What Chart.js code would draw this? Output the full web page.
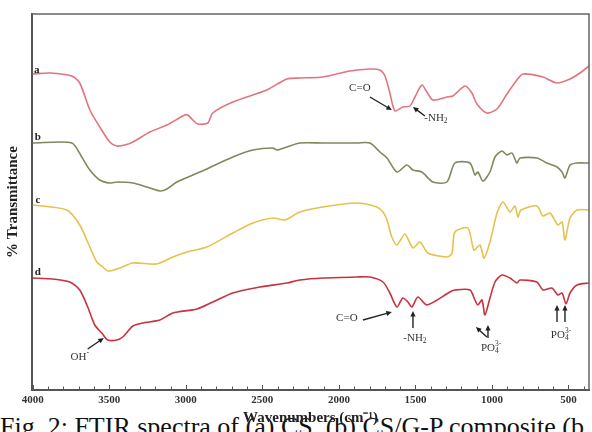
<!DOCTYPE html>
<html><head><meta charset="utf-8">
<script src="https://cdn.jsdelivr.net/npm/chart.js@4"></script>
<style>
html,body{margin:0;padding:0;background:#fff;}
#wrap{position:relative;width:592px;height:432px;overflow:hidden;}
#cap{position:absolute;left:0;top:414px;font:26px "Liberation Serif",serif;line-height:26px;white-space:nowrap;color:#111;}
canvas{position:absolute;left:0;top:0;}
</style></head><body>
<div id="wrap"><div id="cap">Fig. 2: FTIR spectra of (a) CS, (b) CS/G-P composite (b</div><canvas id="c" width="592" height="432"></canvas></div>
<script>
// ---- data (wavenumber, relative transmittance, arbitrary offset units) ----
const aWn = [4000,3889,3745,3693,3627,3562,3497,3451,3399,3346,3235,3124,3007,2987,2954,2922,2856,2824,2693,2471,2340,2255,2105,1928,1797,1732,1699,1667,1634,1582,1536,1503,1458,1425,1386,1294,1255,1176,1131,1098,1033,967,902,837,797,667,575,490,425,366];
const aT  = [316,317,314,307,280,263,248,244,245,248,258,265,275,275,270,266,267,277,288,300,311,312,313,319,321,320,314,297,279,283,284,293,305,298,290,293,294,304,297,286,277,281,296,310,316,313,307,311,317,324];

const bWn = [4000,3745,3680,3627,3562,3497,3451,3346,3255,3170,3124,3059,2908,2693,2562,2431,2405,2340,2255,2105,1882,1797,1732,1686,1621,1556,1516,1458,1386,1294,1242,1144,1111,1092,1059,1013,980,935,902,869,837,817,706,641,575,542,523,490,444,366];
const bT  = [247,247,233,220,210,207,208,207,203,199,201,208,218,233,240,242,240,243,247,247,247,247,238,232,218,225,220,218,208,208,227,227,215,218,209,218,233,239,235,237,227,232,232,227,223,218,212,225,227,227];

const cWn = [4000,3778,3693,3627,3582,3542,3510,3431,3346,3190,3085,2993,2863,2693,2562,2431,2353,2255,2105,1882,1752,1712,1686,1654,1621,1569,1516,1471,1418,1294,1261,1242,1157,1118,1078,1052,1013,967,928,882,850,830,810,706,667,621,569,542,523,490,444,366];
const cT  = [185,180,165,143,128,123,119,122,127,126,133,138,143,157,167,172,170,178,183,187,183,178,170,153,145,156,142,148,137,133,137,158,162,140,145,132,148,177,188,178,184,173,180,184,174,177,165,168,150,172,180,180];

const dWn = [4000,3869,3758,3693,3641,3595,3549,3510,3451,3412,3346,3281,3170,3085,2928,2824,2693,2516,2340,2255,2105,1882,1797,1712,1667,1621,1582,1549,1523,1484,1425,1275,1242,1144,1111,1092,1065,1046,1013,980,935,882,837,817,706,667,608,569,542,516,490,444,366];
const dT  = [112,111,108,100,83,65,57,50,50,53,64,67,70,77,81,88,97,103,107,110,112,113,113,108,97,83,92,88,83,93,85,98,100,100,90,85,90,75,92,108,115,112,107,110,108,100,102,95,97,86,97,105,107];

const seriesNames = ['a','b','c','d'];
const majorTicks = [4000,3500,3000,2500,2000,1500,1000,500];

// ---- annotations (data coordinates) ----
const curveLabels = [
  {t:'a', wn:3974, v:320}, {t:'b', wn:3967, v:253},
  {t:'c', wn:3967, v:190}, {t:'d', wn:3967, v:118}
];
const notes = [
  {parts:[['C=O','n']], wn:1863, v:302},
  {parts:[['-NH','n'],['2','sub']], wn:1366, v:272},
  {parts:[['OH','n'],['-','sup']], wn:3693, v:33},
  {parts:[['C=O','n']], wn:1948, v:72},
  {parts:[['-NH','n'],['2','sub']], wn:1503, v:52},
  {parts:[['PO','n'],[['4','3-'],'subsup']], wn:1006, v:42},
  {parts:[['PO','n'],[['4','3-'],'subsup']], wn:549, v:55}
];
const arrows = [
  [[1797,293],[1654,280]],
  [[1438,274],[1516,283]],
  [[3641,41],[3536,52]],
  [[1843,70],[1654,78]],
  [[1516,62],[1516,79]],
  [[1033,53],[1105,63]],
  [[1026,52],[1026,65]],
  [[575,68],[575,85]],
  [[523,68],[523,85]]
];

const colors = ['#e2747f','#7d8a5c','#e6c14c','#c8323f'];
const wns = [aWn,bWn,cWn,dWn], vals = [aT,bT,cT,dT];

const serif = '"Liberation Serif", "Times New Roman", serif';

function drawParts(ctx, parts, cx, cy){
  const base = '11px '+serif, small = '7.5px '+serif;
  let w = 0;
  const widths = parts.map(([t,k])=>{
    let ww;
    if(k==='n'){ctx.font=base; ww=ctx.measureText(t).width;}
    else if(k==='subsup'){ctx.font=small; ww=Math.max(ctx.measureText(t[0]).width, ctx.measureText(t[1]).width);}
    else {ctx.font=small; ww=ctx.measureText(t).width;}
    w+=ww; return ww;
  });
  let x = cx - w/2;
  ctx.textBaseline='middle'; ctx.textAlign='left';
  parts.forEach(([t,k],i)=>{
    if(k==='n'){ctx.font=base; ctx.fillText(t,x,cy);}
    else if(k==='sub'){ctx.font=small; ctx.fillText(t,x,cy+3.5);}
    else if(k==='sup'){ctx.font=small; ctx.fillText(t,x,cy-4);}
    else {ctx.font=small; ctx.fillText(t[0],x,cy+3.5); ctx.fillText(t[1],x,cy-4);}
    x+=widths[i];
  });
}

function drawArrow(ctx,x1,y1,x2,y2){
  const ang = Math.atan2(y2-y1,x2-x1), L=5.5, H=2.6;
  ctx.beginPath(); ctx.moveTo(x1,y1); ctx.lineTo(x2-Math.cos(ang)*L*0.8,y2-Math.sin(ang)*L*0.8); ctx.stroke();
  ctx.beginPath();
  ctx.moveTo(x2,y2);
  ctx.lineTo(x2-Math.cos(ang)*L - Math.sin(ang)*H, y2-Math.sin(ang)*L + Math.cos(ang)*H);
  ctx.lineTo(x2-Math.cos(ang)*L + Math.sin(ang)*H, y2-Math.sin(ang)*L - Math.cos(ang)*H);
  ctx.closePath(); ctx.fill();
}

const deco = {
  id:'deco',
  afterDraw(chart){
    const {ctx, chartArea:ca, scales:{x,y}} = chart;
    ctx.save();
    // frame top/right
    ctx.strokeStyle='#666'; ctx.lineWidth=1.5;
    ctx.beginPath(); ctx.moveTo(ca.left,ca.top); ctx.lineTo(ca.right,ca.top); ctx.lineTo(ca.right,ca.bottom); ctx.stroke();
    // inner ticks on x axis
    ctx.strokeStyle='#555'; ctx.lineWidth=1;
    x.ticks.forEach(t=>{
      const px = Math.round(x.getPixelForValue(t.value))+0.5;
      const len = majorTicks.includes(t.value)?4:2.5;
      ctx.beginPath(); ctx.moveTo(px,ca.bottom-1); ctx.lineTo(px,ca.bottom-1-len); ctx.stroke();
    });
    // curve labels
    ctx.fillStyle='#222'; ctx.font='bold 11px '+serif; ctx.textAlign='center'; ctx.textBaseline='middle';
    curveLabels.forEach(l=>ctx.fillText(l.t, x.getPixelForValue(l.wn), y.getPixelForValue(l.v)));
    // notes
    ctx.fillStyle='#333';
    notes.forEach(n=>drawParts(ctx,n.parts,x.getPixelForValue(n.wn),y.getPixelForValue(n.v)));
    // arrows
    ctx.strokeStyle='#222'; ctx.fillStyle='#222'; ctx.lineWidth=1.4;
    arrows.forEach(([f,t])=>drawArrow(ctx,x.getPixelForValue(f[0]),y.getPixelForValue(f[1]),x.getPixelForValue(t[0]),y.getPixelForValue(t[1])));
    ctx.restore();
  }
};

const minorTicks = [];
for(let v=4000; v>=400; v-=100) minorTicks.push(v);

new Chart(document.getElementById('c'),{
  type:'line',
  data:{datasets: seriesNames.map((n,i)=>({
    label:n,
    data: wns[i].map((w,j)=>({x:w,y:vals[i][j]})),
    borderColor:colors[i], borderWidth:1.6, pointRadius:0, tension:0.25, fill:false
  }))},
  options:{
    responsive:false, animation:false,
    layout:{padding:{left:6,right:3,top:14,bottom:3}},
    plugins:{legend:{display:false},tooltip:{enabled:false}},
    scales:{
      x:{type:'linear', reverse:true, min:366, max:4005,
        afterBuildTicks(s){ s.ticks = minorTicks.map(v=>({value:v})); },
        ticks:{autoSkip:false, maxRotation:0, padding:5, color:'#333',
          font:{family:serif, size:11, weight:'bold', lineHeight:1},
          callback:(v)=> majorTicks.includes(v)? String(v) : ''},
        grid:{display:true, drawOnChartArea:false, drawTicks:false},
        border:{display:true, color:'#555', width:2},
        title:{display:true, text:'Wavenumbers (cm\u207B\u00B9)', color:'#222',
          font:{family:serif, size:15, weight:'bold', lineHeight:1}, padding:{top:0,bottom:3}}
      },
      y:{min:0, max:376,
        ticks:{display:false},
        grid:{display:true, drawOnChartArea:false, drawTicks:false},
        border:{display:true, color:'#555', width:2},
        title:{display:true, text:'% Transmittance', color:'#222',
          font:{family:serif, size:15, weight:'bold', lineHeight:1}, padding:{top:0,bottom:11}}
      }
    }
  },
  plugins:[deco]
});
</script>
</body></html>
